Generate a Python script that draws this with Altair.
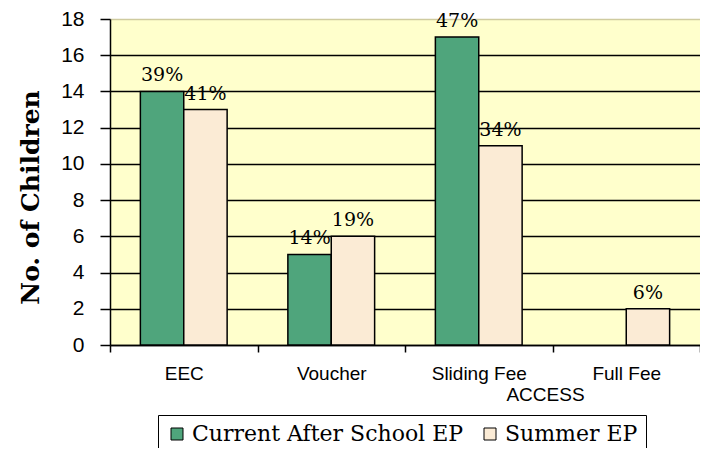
import altair as alt
import pandas as pd

categories = ["EEC", "Voucher", "Sliding Fee", "Full Fee"]
series_names = ["Current After School EP", "Summer EP"]
current_vals = [14, 5, 17, 0]
summer_vals = [13, 6, 11, 2]
current_pct = ["39%", "14%", "47%", ""]
summer_pct = ["41%", "19%", "34%", "6%"]
y_ticks = [0, 2, 4, 6, 8, 10, 12, 14, 16, 18]

rows = []
for i, c in enumerate(categories):
    rows.append({"cat": c, "series": series_names[0], "value": current_vals[i], "pct": current_pct[i]})
    rows.append({"cat": c, "series": series_names[1], "value": summer_vals[i], "pct": summer_pct[i]})
df = pd.DataFrame(rows)

SANS = "Liberation Sans, Arial"
SERIF = "DejaVu Serif"

x = alt.X(
    "cat:N",
    sort=categories,
    scale=alt.Scale(paddingInner=0, paddingOuter=0),
    axis=alt.Axis(
        title="ACCESS",
        tickBand="extent",
        labelAngle=0,
        labelFont=SANS,
        labelFontSize=19,
        labelColor="black",
        labelPadding=12,
        tickSize=7,
        tickColor="black",
        tickWidth=1.5,
        domainColor="black",
        domainWidth=1.5,
        grid=False,
        titleX=435,
        titleY=49,
        titleFont=SANS,
        titleFontSize=19,
        titleFontWeight="normal",
        titleColor="black",
        titleAlign="center",
        titleBaseline="middle",
    ),
)

xoff = alt.XOffset(
    "series:N",
    sort=series_names,
    scale=alt.Scale(paddingOuter=0.7, paddingInner=0),
)

y = alt.Y(
    "value:Q",
    scale=alt.Scale(domain=[0, 18], nice=False),
    axis=alt.Axis(
        values=y_ticks,
        title="No. of Children",
        titleFont=SERIF,
        titleFontSize=25,
        titleFontWeight="bold",
        titleColor="black",
        titleAngle=270,
        titleX=-72,
        titleY=178,
        titleAlign="center",
        titleBaseline="alphabetic",
        labelFont=SANS,
        labelFontSize=21,
        labelColor="black",
        labelPadding=16,
        tickSize=10,
        tickColor="black",
        tickWidth=1.5,
        domainColor="black",
        domainWidth=1.5,
        grid=True,
        gridColor=alt.condition("datum.value == 18", alt.value("#cfcb9f"), alt.value("black")),
        gridWidth=1.5,
    ),
)

color = alt.Color(
    "series:N",
    sort=series_names,
    scale=alt.Scale(domain=series_names, range=["#4fa57c", "#FBEBD5"]),
    title=None,
    legend=alt.Legend(
        orient="none",
        legendX=48,
        legendY=396,
        direction="horizontal",
        strokeColor="black",
        fillColor="white",
        padding=8,
        symbolType="square",
        symbolSize=144,
        symbolStrokeColor="black",
        symbolStrokeWidth=1,
        symbolOpacity=1,
        labelFont=SERIF,
        labelFontSize=22,
        labelColor="black",
        labelLimit=400,
        labelOffset=4,
        columnPadding=15,
    ),
)

bars = alt.Chart(df).transform_filter("datum.value > 0").mark_bar(
    stroke="black", strokeWidth=1.5, opacity=1
).encode(x=x, xOffset=xoff, y=y, color=color)

labels = alt.Chart(df).transform_filter("datum.value > 0").mark_text(
    baseline="alphabetic", align="center", dy=-10, font=SERIF, fontSize=19, color="black"
).encode(x=x, xOffset=xoff, y=y, text="pct:N")

chart = alt.layer(bars, labels).properties(
    width=590,
    height=326,
    padding={"left": 102, "top": 11, "right": 0, "bottom": 103},
    autosize=alt.AutoSizeParams(type="none"),
).configure(background="white").configure_view(fill="#FFFFCC", strokeWidth=0)

chart.save("out.html", embed_options={"renderer": "svg", "actions": False})
